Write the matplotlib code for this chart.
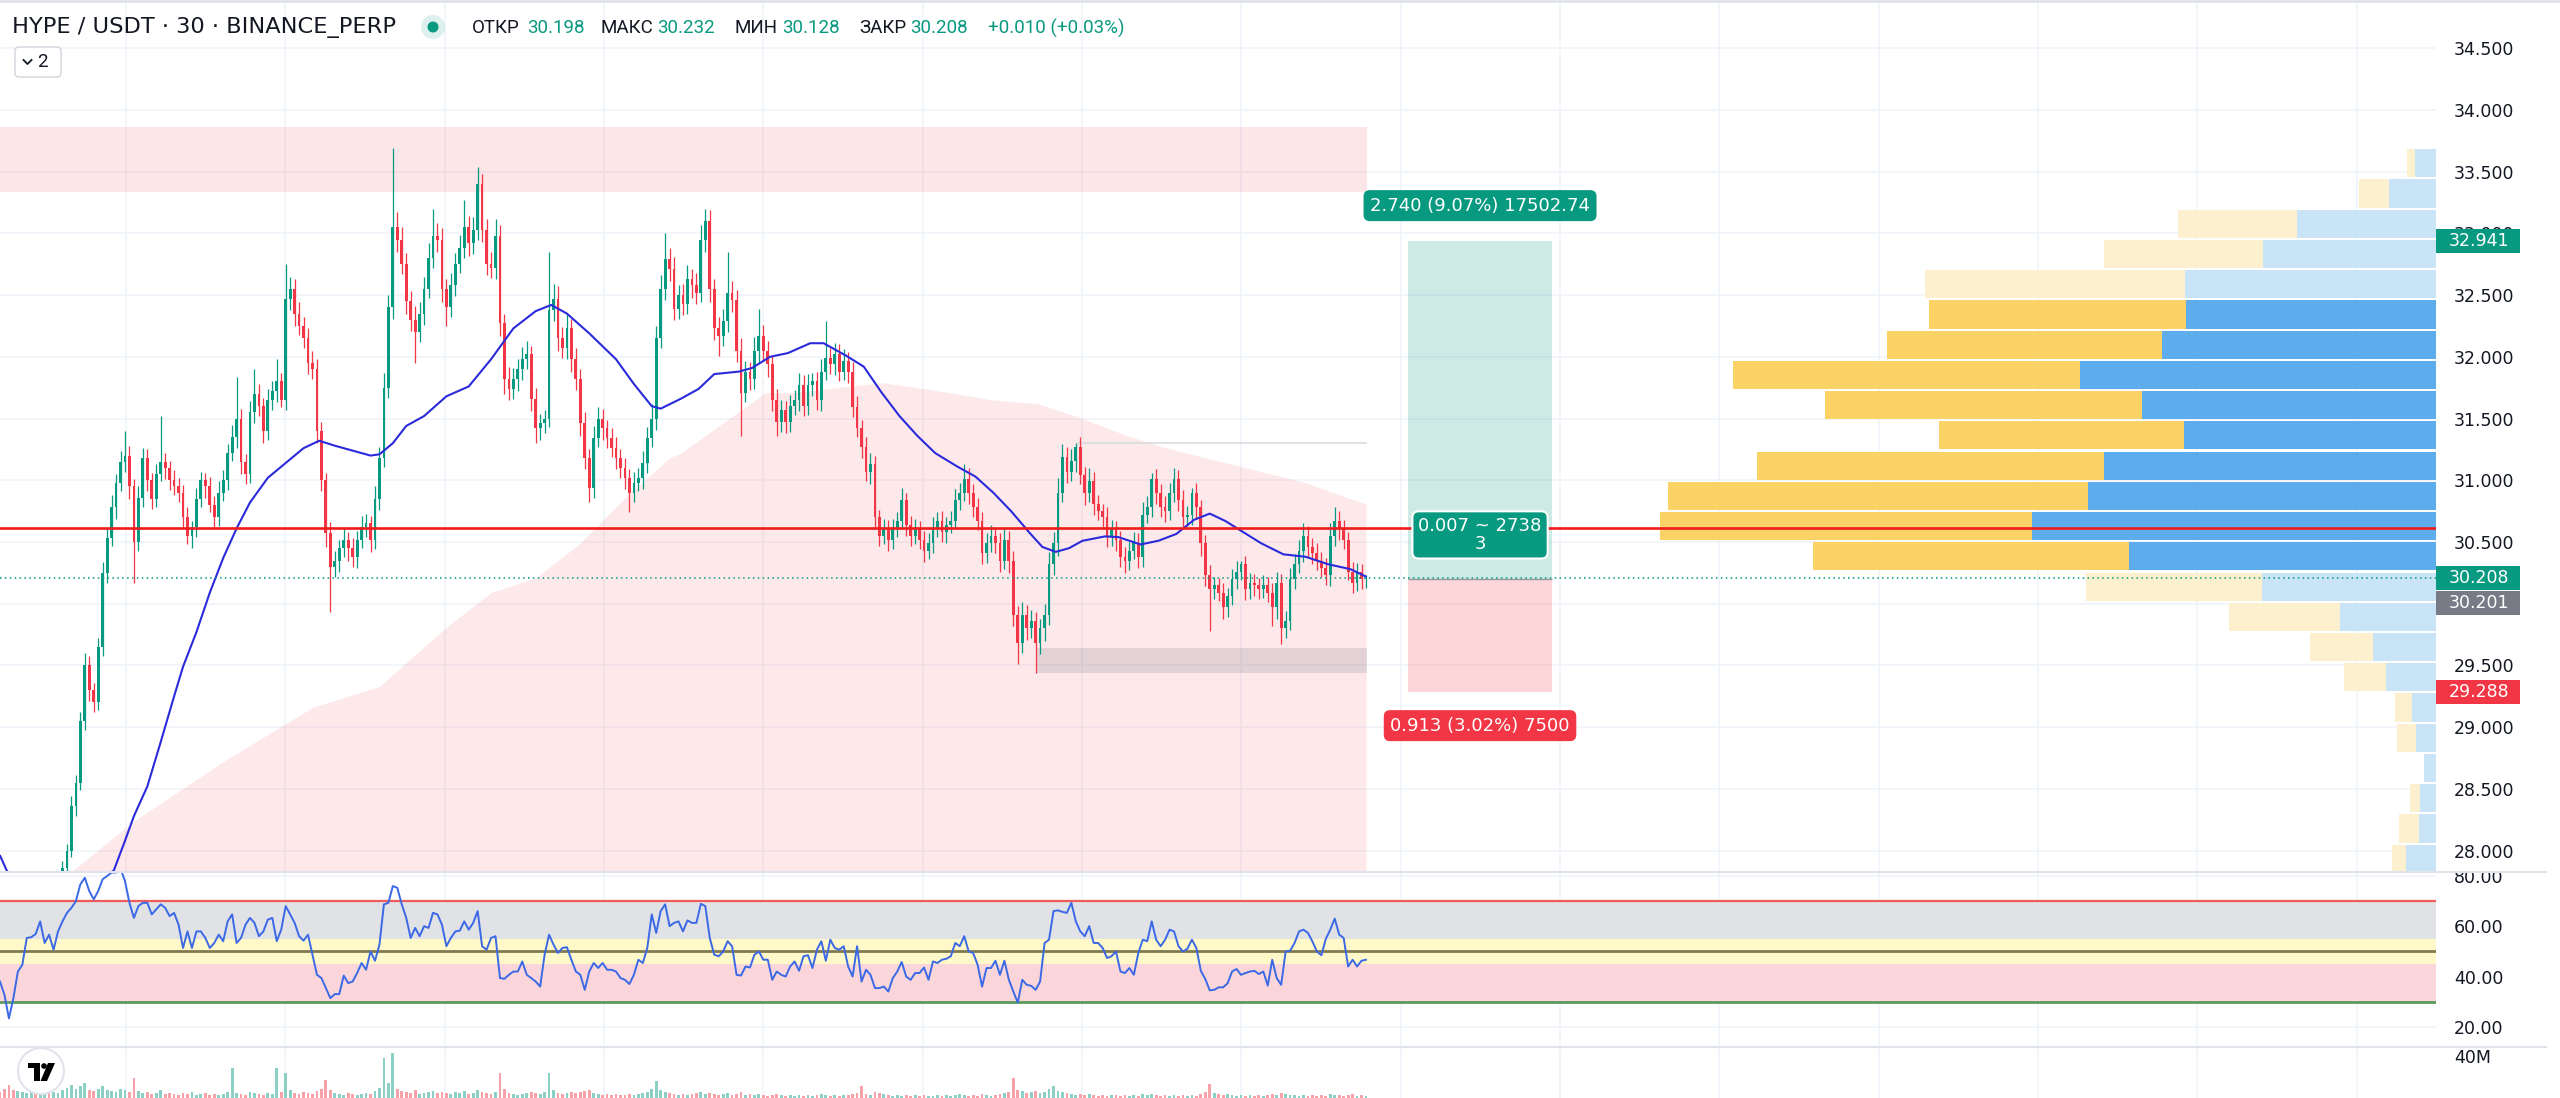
import numpy as np
import matplotlib
matplotlib.use("Agg")
import matplotlib.pyplot as plt
from matplotlib.patches import FancyBboxPatch, Circle, Rectangle, Polygon

# ---------------------------------------------------------------- data
# 30-minute candles (closes); opens follow the previous close
closes = [
    27.60, 27.45, 27.30, 27.22, 27.35, 27.45, 27.52, 27.58, 27.55, 27.62,
    27.68, 27.66, 27.72, 27.78, 27.86, 28.00, 28.36, 28.55, 29.05, 29.50,
    29.30, 29.20, 29.65, 30.25, 30.53, 30.78, 30.98, 31.15, 31.20, 30.95,
    30.50, 30.86, 31.18, 31.00, 30.85, 31.05, 31.15, 31.10, 31.00, 30.95,
    30.90, 30.70, 30.55, 30.62, 30.85, 31.00, 30.95, 30.80, 30.70, 30.90,
    31.00, 31.22, 31.35, 31.50, 31.15, 31.05, 31.55, 31.70, 31.60, 31.40,
    31.65, 31.72, 31.80, 31.65, 32.47, 32.55, 32.35, 32.25, 32.15, 31.95,
    31.90, 31.40, 31.00, 30.57, 30.30, 30.35, 30.45, 30.52, 30.45, 30.38,
    30.52, 30.62, 30.65, 30.52, 30.85, 31.18, 31.75, 32.40, 33.05, 32.95,
    32.75, 32.45, 32.30, 32.20, 32.35, 32.55, 32.80, 32.98, 32.95, 32.55,
    32.40, 32.58, 32.75, 32.88, 33.05, 32.92, 33.03, 33.40, 33.03, 32.75,
    32.72, 32.98, 32.27, 31.82, 31.74, 31.82, 31.90, 31.98, 32.02, 31.66,
    31.42, 31.46, 31.50, 32.38, 32.47, 32.15, 32.07, 32.23, 31.98, 31.82,
    31.46, 31.18, 30.94, 31.34, 31.50, 31.42, 31.34, 31.26, 31.18, 31.10,
    31.02, 30.90, 30.98, 31.02, 31.14, 31.34, 31.50, 32.15, 32.55, 32.79,
    32.71, 32.39, 32.50, 32.43, 32.63, 32.58, 32.52, 32.95, 33.10, 32.55,
    32.23, 32.17, 32.29, 32.52, 32.46, 32.05, 31.71, 31.88, 31.82, 32.05,
    32.17, 32.05, 31.94, 31.65, 31.47, 31.57, 31.47, 31.60, 31.65, 31.77,
    31.60, 31.77, 31.80, 31.65, 31.88, 31.99, 31.94, 32.02, 31.88, 31.97,
    31.88, 31.59, 31.42, 31.27, 31.07, 31.13, 30.70, 30.55, 30.61, 30.52,
    30.61, 30.67, 30.84, 30.64, 30.55, 30.61, 30.52, 30.43, 30.49, 30.61,
    30.67, 30.58, 30.64, 30.67, 30.84, 30.90, 31.01, 30.90, 30.78, 30.67,
    30.41, 30.49, 30.55, 30.49, 30.35, 30.52, 30.35, 29.91, 29.68, 29.91,
    29.80, 29.86, 29.68, 29.80, 29.91, 30.32, 30.49, 30.90, 31.19, 31.07,
    31.16, 31.27, 31.04, 30.90, 30.99, 30.81, 30.75, 30.70, 30.55, 30.61,
    30.52, 30.38, 30.35, 30.43, 30.49, 30.38, 30.72, 30.78, 31.01, 30.90,
    30.78, 30.75, 30.90, 31.01, 30.84, 30.70, 30.72, 30.90, 30.78, 30.49,
    30.23, 30.12, 30.15, 30.09, 29.97, 30.06, 30.20, 30.26, 30.32, 30.12,
    30.17, 30.15, 30.12, 30.15, 30.09, 29.97, 30.17, 29.80, 29.86, 30.20,
    30.32, 30.43, 30.55, 30.46, 30.41, 30.35, 30.29, 30.23, 30.55, 30.67,
    30.61, 30.52, 30.26, 30.17, 30.26, 30.198, 30.208,
]
first_open = 27.70

# wick lengths above / below the body, in cents
upper_wick = [
    5, 6, 4, 7, 5, 6, 4, 5, 6, 5,
    4, 6, 5, 4, 6, 5, 8, 6, 7, 10,
    8, 6, 7, 9, 8, 10, 7, 9, 20, 8,
    6, 9, 8, 7, 6, 8, 37, 7, 6, 8,
    7, 6, 8, 5, 9, 7, 6, 8, 7, 9,
    8, 7, 10, 34, 8, 6, 9, 20, 8, 7,
    9, 8, 18, 7, 28, 10, 8, 9, 7, 8,
    10, 8, 7, 6, 9, 8, 7, 10, 6, 8,
    7, 9, 8, 6, 10, 9, 12, 10, 64, 12,
    10, 9, 8, 11, 9, 10, 12, 22, 10, 9,
    8, 10, 9, 11, 22, 9, 10, 14, 8, 9,
    10, 14, 9, 8, 10, 9, 8, 10, 11, 7,
    9, 8, 7, 47, 12, 10, 9, 12, 8, 9,
    8, 9, 7, 10, 9, 8, 7, 8, 9, 7,
    8, 7, 9, 8, 10, 9, 12, 10, 11, 21,
    9, 10, 8, 9, 11, 8, 10, 12, 10, 9,
    8, 9, 10, 33, 9, 8, 10, 9, 8, 11,
    22, 9, 8, 7, 9, 8, 7, 9, 8, 10,
    8, 9, 7, 8, 10, 30, 8, 9, 8, 9,
    7, 8, 9, 7, 8, 9, 7, 6, 8, 7,
    8, 7, 10, 6, 7, 8, 6, 7, 8, 9,
    7, 8, 6, 8, 9, 8, 12, 9, 7, 8,
    7, 8, 9, 6, 8, 9, 7, 8, 7, 10,
    8, 9, 7, 8, 9, 10, 9, 12, 10, 8,
    9, 3, 8, 7, 11, 8, 7, 6, 8, 7,
    6, 7, 8, 7, 9, 8, 10, 9, 5, 8,
    7, 9, 8, 9, 7, 8, 7, 4, 8, 6,
    7, 8, 7, 6, 8, 7, 8, 9, 3, 7,
    8, 7, 6, 8, 7, 8, 9, 7, 8, 9,
    8, 9, 10, 8, 7, 8, 7, 8, 10, 11,
    8, 7, 6, 8, 7, 6, 2.4,
]
lower_wick = [
    6, 5, 7, 6, 5, 6, 5, 4, 6, 5,
    5, 6, 4, 5, 7, 6, 5, 8, 6, 7,
    9, 8, 6, 7, 8, 6, 9, 7, 8, 10,
    33, 7, 8, 9, 8, 7, 6, 9, 8, 7,
    8, 9, 7, 10, 8, 7, 9, 6, 8, 7,
    7, 8, 6, 9, 10, 8, 7, 9, 8, 10,
    7, 8, 9, 6, 8, 9, 10, 7, 8, 9,
    8, 10, 9, 11, 37, 8, 9, 7, 10, 8,
    9, 7, 8, 10, 8, 9, 7, 8, 9, 10,
    8, 10, 9, 25, 8, 9, 7, 8, 10, 11,
    15, 8, 9, 7, 8, 10, 9, 8, 10, 9,
    8, 9, 10, 12, 9, 8, 10, 9, 8, 10,
    12, 9, 8, 7, 9, 10, 8, 9, 10, 9,
    10, 9, 12, 8, 7, 9, 8, 7, 9, 8,
    9, 16, 8, 7, 9, 8, 7, 9, 8, 9,
    10, 9, 8, 9, 8, 10, 9, 8, 10, 11,
    9, 16, 8, 9, 10, 9, 35, 8, 9, 8,
    9, 8, 10, 9, 11, 8, 9, 8, 7, 9,
    8, 7, 9, 8, 9, 7, 8, 9, 8, 7,
    9, 8, 7, 9, 8, 10, 9, 8, 7, 9,
    8, 7, 6, 9, 8, 7, 8, 9, 7, 8,
    7, 8, 9, 7, 6, 8, 7, 9, 8, 7,
    9, 8, 7, 8, 9, 7, 10, 9, 17, 8,
    9, 8, 24, 9, 10, 8, 9, 10, 8, 9,
    8, 9, 7, 10, 8, 9, 7, 8, 9, 8,
    9, 8, 10, 8, 7, 9, 8, 7, 8, 9,
    8, 9, 7, 8, 9, 8, 7, 8, 9, 10,
    9, 34, 8, 7, 9, 8, 7, 8, 7, 9,
    8, 9, 8, 7, 8, 15, 9, 13, 8, 7,
    8, 7, 9, 8, 9, 8, 7, 8, 9, 8,
    9, 8, 7, 8, 7, 8, 7,
]

# volume per candle, millions
volume_m = [
    6, 9, 12, 8, 7, 6, 5, 7, 5, 6,
    4, 5, 6, 5, 8, 10, 12, 9, 11, 14,
    8, 7, 9, 11, 8, 7, 6, 9, 8, 6,
    19, 7, 5, 6, 4, 5, 8, 4, 5, 4,
    3, 5, 4, 6, 3, 4, 5, 3, 4, 3,
    4, 6, 29, 5, 4, 3, 6, 5, 4, 3,
    5, 4, 29, 6, 24, 8, 5, 4, 6, 5,
    4, 7, 9, 17, 8, 5, 4, 3, 5, 4,
    3, 4, 5, 4, 7, 10, 38, 14, 43, 9,
    7, 6, 5, 8, 4, 5, 6, 7, 5, 6,
    5, 4, 6, 5, 7, 4, 5, 8, 6, 5,
    4, 6, 24, 9, 5, 4, 3, 4, 5, 6,
    5, 4, 6, 24, 8, 5, 4, 5, 6, 5,
    6, 7, 8, 5, 4, 3, 4, 3, 4, 3,
    3, 4, 3, 4, 5, 6, 9, 16, 8, 6,
    5, 4, 3, 4, 3, 4, 5, 6, 4, 5,
    4, 3, 4, 5, 3, 4, 6, 3, 4, 3,
    4, 3, 2, 3, 4, 3, 2, 3, 2, 3,
    2, 3, 2, 3, 4, 3, 2, 3, 2, 3,
    3, 4, 5, 11, 4, 3, 6, 5, 4, 3,
    2, 3, 2, 3, 2, 3, 2, 3, 2, 2,
    3, 2, 3, 2, 3, 4, 3, 2, 3, 2,
    4, 3, 2, 3, 4, 5, 6, 19, 8, 7,
    5, 6, 7, 5, 6, 9, 11, 7, 6, 5,
    4, 3, 4, 3, 4, 3, 2, 3, 2, 3,
    3, 2, 3, 2, 3, 2, 4, 3, 4, 3,
    2, 3, 2, 3, 2, 3, 2, 3, 2, 4,
    6, 13, 5, 4, 3, 4, 3, 2, 3, 2,
    3, 2, 3, 2, 3, 4, 3, 5, 4, 3,
    3, 2, 3, 2, 3, 2, 3, 2, 4, 3,
    3, 2, 3, 4, 2, 3, 2,
]

rsi_values = [
    38, 32.7, 23.3, 31.4, 42, 44.7, 55.4, 55.7, 57, 62,
    53.4, 56.7, 50.7, 58, 62, 65.4, 67.4, 70.1, 76.8, 79.4,
    74.1, 70.8, 74.1, 78.8, 80.1, 81.5, 81.5, 83, 78.1, 69.4,
    63.4, 68.1, 69.4, 69.4, 64.8, 66.8, 68.8, 67.4, 64.1, 65.4,
    60.7, 51.4, 58, 51.4, 58, 58, 55.4, 51.4, 53.4, 56.7,
    54.1, 62, 64.8, 53.4, 55.4, 60.7, 63.4, 61.4, 56.1, 58,
    62.7, 63.4, 54.1, 58.7, 68.1, 64.8, 61.4, 56.1, 54.3, 56.7,
    48.7, 40.7, 39.4, 35.4, 31.4, 33, 33, 40.4, 37.4, 38,
    41.4, 45.4, 42.7, 50, 46.3, 52.7, 68.8, 69.4, 76.1, 75.4,
    68.8, 63.4, 55.4, 59.4, 56.1, 60.1, 59.4, 65.4, 64.8, 60.7,
    52.1, 55.4, 58, 58.3, 62, 58.7, 61.4, 66.1, 52.1, 50.7,
    55.4, 56.1, 39.4, 39.1, 40.7, 42, 42, 46, 40.7, 39.4,
    38, 36, 48.7, 56.7, 52.7, 49.4, 51.4, 51.7, 46.7, 42,
    40.7, 34.7, 42, 45.4, 43.4, 45.4, 42.7, 42.7, 42, 39.4,
    38.7, 37, 40.7, 46.7, 45.4, 51.4, 64.8, 57.4, 66.1, 68.8,
    60.1, 61.4, 62, 58, 62.4, 61.4, 61.4, 69, 68.1, 55.4,
    48.7, 48.1, 50, 54.1, 52.1, 40.7, 40.4, 44, 43.6, 48.7,
    50, 46.7, 46.7, 38.7, 42, 40.7, 40, 44, 46, 42.3,
    48.1, 48.5, 43.4, 50.7, 54.1, 46.3, 54.7, 51.4, 50.7, 52.1,
    44, 40, 52.1, 38, 42.7, 40.7, 35.4, 35.4, 36, 34,
    39.4, 42, 45.8, 40, 38.7, 41.4, 41.4, 43.6, 38.7, 46,
    45.4, 46.7, 47.1, 48.1, 53.4, 52.1, 56.1, 50, 49.4, 44.7,
    36, 43.4, 43.4, 46.3, 40.7, 46.3, 38.7, 34, 29.6, 38.7,
    36.7, 36.3, 34.7, 38, 53.4, 54.7, 66.1, 66.4, 65.8, 65.4,
    69.4, 62, 58, 56.1, 60.1, 53.4, 53.4, 51.4, 47.4, 48.1,
    50, 42, 41.4, 43.4, 40.7, 49.4, 54.7, 54.1, 62, 54.7,
    52.1, 54.7, 58.7, 58, 52.1, 50, 51.1, 54.7, 51.4, 42.3,
    39, 34.5, 34.7, 35.7, 35.7, 37.3, 42, 43, 40.7, 41.4,
    42, 42.3, 41, 42, 36.4, 46.7, 39.4, 36.7, 50, 50.3,
    53.4, 58, 58.7, 57.4, 54, 50, 48.5, 55, 58.7, 63.1,
    56.7, 55.4, 44, 46.7, 44, 46.3, 46.7,
]

# moving average (blue) sampled along the bars
ma_bar = [0, 1.5, 4, 10, 18, 25.5, 28, 30, 33, 36, 39, 41, 44, 47, 50, 53, 56, 60,
          64, 68, 71.5, 75, 79, 83, 85, 88, 91, 95, 100, 105, 110, 115, 120, 123.5,
          127, 132, 138, 142, 146, 148, 152.5, 156.5, 160, 165.5, 168.5, 172.5,
          176.5, 181.5, 184.5, 189.5, 193.5, 197.5, 201.5, 205.5, 209.5, 214.5,
          218.5, 222.5, 226.5, 230.5, 233.5, 236.5, 239.5, 242.5, 247.5, 250.5,
          255.5, 259.5, 263.5, 267.5, 271, 274.5, 278.5, 282.5, 287.5, 292.5,
          297.5, 302.5, 306]
ma_price = [27.96, 27.84, 27.72, 27.62, 27.63, 27.84, 28.08, 28.28, 28.52, 28.88,
            29.25, 29.49, 29.77, 30.09, 30.37, 30.61, 30.82, 31.02, 31.14, 31.26,
            31.32, 31.28, 31.24, 31.20, 31.21, 31.30, 31.44, 31.52, 31.68, 31.76,
            31.98, 32.23, 32.37, 32.42, 32.35, 32.19, 31.98, 31.78, 31.60, 31.58,
            31.66, 31.74, 31.86, 31.88, 31.91, 32.00, 32.03, 32.11, 32.11, 32.01,
            31.92, 31.71, 31.52, 31.36, 31.22, 31.11, 31.03, 30.90, 30.75, 30.58,
            30.46, 30.42, 30.45, 30.51, 30.545, 30.54, 30.48, 30.51, 30.565, 30.68,
            30.73, 30.67, 30.58, 30.49, 30.40, 30.38, 30.32, 30.28, 30.22]

# long moving average drawn as a pink area
area_bar = [12, 16, 30, 50, 70, 85, 100, 110, 120, 130, 140, 150, 152.5, 171.5,
            177.5, 197.5, 207.5, 222.5, 232.5, 242.5, 252.5, 262.5, 272.5, 282.5,
            292.5, 302.5, 306]
area_price = [27.70, 27.83, 28.24, 28.72, 29.16, 29.33, 29.81, 30.09, 30.21, 30.49,
              30.86, 31.18, 31.22, 31.71, 31.71, 31.79, 31.74, 31.65, 31.62, 31.50,
              31.36, 31.25, 31.16, 31.07, 30.98, 30.85, 30.81]

# zones / drawings (prices, bar indices)
supply_zone = (33.335, 33.858)
zone_bars = (-5, 306.3)
demand_box = (29.44, 29.64)
demand_bars = (232.3, 306.3)
level_line = 31.30
level_bars = (241.3, 306.3)
red_level = 30.615

entry_price = 30.201
take_profit = 32.941
stop_loss = 29.288
position_bars = (315.4, 347.7)
profit_text = "2.740 (9.07%) 17502.74"
middle_text = "0.007 ~ 2738\n3"
loss_text = "0.913 (3.02%) 7500"

# visible-range volume profile, rows from top to bottom
vp_top = 33.690
vp_row = 0.2449
vp_up = [21, 47, 139, 173, 251, 250, 274, 356, 294, 252, 332, 348, 404, 307, 174,
         96, 63, 50, 24, 20, 12, 16, 17, 30]
vp_down = [8, 30, 119, 159, 260, 257, 275, 347, 317, 245, 347, 420, 372, 316, 176,
           111, 63, 42, 17, 19, 0, 10, 20, 14]
value_area_rows = (5, 13)

# RSI levels
rsi_upper, rsi_mid, rsi_lower = 70, 50, 30
rsi_bands = [(55, 70, "#E1E2E6"), (45, 55, "#FFF8C8"), (30, 45, "#FAD6DA")]

price_ticks = [28.0, 28.5, 29.0, 29.5, 30.0, 30.5, 31.0, 31.5, 32.0, 32.5, 33.0,
               33.5, 34.0, 34.5]
rsi_ticks = [20, 40, 60, 80]
header_title = "HYPE / USDT \u00b7 30 \u00b7 BINANCE_PERP"

n = len(closes)
assert len(upper_wick) == n and len(lower_wick) == n
assert len(volume_m) == n and len(rsi_values) == n
assert len(ma_bar) == len(ma_price) and len(area_bar) == len(area_price)

# ---------------------------------------------------------------- style
W, H, DPI = 2560, 1098, 100
UP, DOWN, GRAY = "#089981", "#F23645", "#787B86"
TXT = "#131722"
GRID = "#F0F3FA"
SEP = "#E0E3EB"
PANE_R = 2436          # right edge of the panes, px
MAIN_B, RSI_B = 872, 1047
PRICE_LIM = (27.827, 34.890)
RSI_LIM = (11.9, 81.7)
VOL_LIM = (0, 48.6)
BAR_PX = 4.464
XLIM = (0, PANE_R / BAR_PX)
VP_FRAC = 0.3186
LABEL_FS = 12.5
TAG_FS = 13

plt.rcParams["font.family"] = ["DejaVu Sans"]
fig = plt.figure(figsize=(W / DPI, H / DPI), dpi=DPI, facecolor="white")


def frect(x0, y0, x1, y1):
    return [x0 / W, 1 - y1 / H, (x1 - x0) / W, (y1 - y0) / H]


ax = fig.add_axes(frect(0, 0, PANE_R, MAIN_B))
ax_rsi = fig.add_axes(frect(0, MAIN_B, PANE_R, RSI_B))
ax_vol = fig.add_axes(frect(0, RSI_B, PANE_R, H))

day_ticks = np.arange(28.23, XLIM[1], 35.69)
for a in (ax, ax_rsi, ax_vol):
    a.set_xlim(*XLIM)
    for s in a.spines.values():
        s.set_visible(False)
    a.set_xticks(day_ticks)
    a.tick_params(axis="x", length=0, labelbottom=False)
    a.grid(True, axis="x", color=GRID, lw=1.2, zorder=0)
    a.set_axisbelow(True)
    a.yaxis.tick_right()
    a.tick_params(axis="y", length=0, pad=13, labelsize=LABEL_FS, labelcolor=TXT)

# ---------------- main pane
ax.set_ylim(*PRICE_LIM)
ax.set_yticks(price_ticks)
ax.set_yticklabels([f"{t:.3f}" for t in price_ticks])
ax.grid(True, axis="y", color=GRID, lw=1.2, zorder=0)

idx = np.arange(n)
c = np.array(closes, dtype=float)
o = np.r_[first_open, c[:-1]]
hi = np.maximum(o, c) + np.array(upper_wick) / 100.0
lo = np.minimum(o, c) - np.array(lower_wick) / 100.0
up = c >= o
cols = np.where(up, UP, DOWN)

ax.fill_between(area_bar, area_price, PRICE_LIM[0] - 1, color=DOWN, alpha=0.11, lw=0, zorder=1)
ax.fill_between(zone_bars, supply_zone[0], supply_zone[1], color=DOWN, alpha=0.12, lw=0, zorder=1)
ax.fill_between(demand_bars, demand_box[0], demand_box[1], color=GRAY, alpha=0.2, lw=0, zorder=2)
ax.hlines(level_line, *level_bars, color="#D9DBE1", lw=1.2, zorder=2)

ax.vlines(idx, lo, hi, colors=cols, lw=0.9, zorder=3)
ax.bar(idx, np.maximum(np.abs(c - o), 0.008), bottom=np.minimum(o, c), width=0.62,
       color=cols, lw=0, zorder=4)
ax.plot(ma_bar, ma_price, color="#2A2ADB", lw=1.5, zorder=5, solid_capstyle="round")

ax.fill_between(position_bars, entry_price, take_profit, color=UP, alpha=0.2, lw=0, zorder=2)
ax.fill_between(position_bars, stop_loss, entry_price, color=DOWN, alpha=0.2, lw=0, zorder=2)
ax.hlines(entry_price, *position_bars, color="#9598A1", lw=1, zorder=2)

# ---------------- volume profile (overlay sharing the price scale)
ax_vp = ax.twiny()
for s in ax_vp.spines.values():
    s.set_visible(False)
ax_vp.set_xticks([])
ax_vp.tick_params(top=False, labeltop=False, bottom=False, labelbottom=False)
vp_up_a = np.array(vp_up, float)
vp_dn_a = np.array(vp_down, float)
tot_max = (vp_up_a + vp_dn_a).max()
ax_vp.set_xlim(tot_max / VP_FRAC, 0)
rows = np.arange(len(vp_up))
centers = vp_top - (rows + 0.5) * vp_row
in_va = (rows >= value_area_rows[0]) & (rows <= value_area_rows[1])
col_up = np.where(in_va, "#5DADEC", "#C8E4F6")
col_dn = np.where(in_va, "#FBD266", "#FDF0CE")
ax_vp.barh(centers, vp_up_a, height=vp_row * 0.93, left=0, color=col_up, lw=0, zorder=1)
ax_vp.barh(centers, vp_dn_a, height=vp_row * 0.93, left=vp_up_a, color=col_dn, lw=0, zorder=1)
ax_vp.set_ylim(*PRICE_LIM)

ax_vp.axhline(red_level, color="#F01C1C", lw=1.9, zorder=4)
ax_vp.axhline(c[-1], color=UP, lw=1.1, ls=(0, (1, 2.2)), zorder=4)

pos_mid = sum(position_bars) / 2
ax_vp.annotate(profit_text, xy=(pos_mid, take_profit), xycoords=ax.transData,
               xytext=(0, 35), textcoords="offset pixels", ha="center", va="center",
               color="white", fontsize=TAG_FS, zorder=6,
               bbox=dict(boxstyle="round,pad=0.36,rounding_size=0.35", fc=UP, ec="none"))
ax_vp.annotate(middle_text, xy=(pos_mid, entry_price), xycoords=ax.transData,
               xytext=(0, 44), textcoords="offset pixels", ha="center", va="center",
               color="white", fontsize=TAG_FS, zorder=6, linespacing=0.95,
               bbox=dict(boxstyle="round,pad=0.33,rounding_size=0.35", fc=UP, ec="white", lw=1.5))
ax_vp.annotate(loss_text, xy=(pos_mid, stop_loss), xycoords=ax.transData,
               xytext=(0, -34), textcoords="offset pixels", ha="center", va="center",
               color="white", fontsize=TAG_FS, zorder=6,
               bbox=dict(boxstyle="round,pad=0.36,rounding_size=0.35", fc=DOWN, ec="none"))

# ---------------- RSI pane
ax_rsi.set_ylim(*RSI_LIM)
ax_rsi.set_yticks(rsi_ticks)
ax_rsi.set_yticklabels([f"{t:.2f}" for t in rsi_ticks])
ax_rsi.grid(True, axis="y", color=GRID, lw=1.2, zorder=0)
for lo_b, hi_b, colr in rsi_bands:
    ax_rsi.axhspan(lo_b, hi_b, color=colr, lw=0, zorder=1)
ax_rsi.axhline(rsi_upper, color="#EF5A5A", lw=1.6, zorder=2)
ax_rsi.axhline(rsi_mid, color="#807A52", lw=2.0, zorder=2)
ax_rsi.axhline(rsi_lower, color="#5C9A5C", lw=2.0, zorder=2)
ax_rsi.plot(idx, rsi_values, color="#3B69E6", lw=1.4, zorder=3)

# ---------------- volume pane
ax_vol.set_ylim(*VOL_LIM)
ax_vol.set_yticks([40])
ax_vol.set_yticklabels(["40M"])
vcols = np.where(up, "#8CCFC4", "#F7A1A8")
ax_vol.bar(idx, volume_m, width=0.62, color=vcols, lw=0, zorder=2)

# ---------------- price-axis labels
ax_lab = fig.add_axes(frect(PANE_R, 0, W, MAIN_B))
ax_lab.set_xlim(0, W - PANE_R)
ax_lab.set_ylim(*PRICE_LIM)
ax_lab.axis("off")
px_per_price = MAIN_B / (PRICE_LIM[1] - PRICE_LIM[0])
box_h = 24 / px_per_price
tags = [(take_profit, take_profit, UP), (c[-1], c[-1], UP),
        (entry_price, entry_price - 24 / px_per_price, GRAY),
        (stop_loss, stop_loss, DOWN)]
ax_lab.barh([t[1] for t in tags], 84, height=box_h, left=0,
            color=[t[2] for t in tags], lw=0)
for val, ypos, colr in tags:
    ax_lab.text(13, ypos, f"{val:.3f}", color="white", fontsize=LABEL_FS,
                va="center", ha="left")

# ---------------- overlay decorations in pixel coordinates
ov = fig.add_axes([0, 0, 1, 1], zorder=10)
ov.set_xlim(0, W)
ov.set_ylim(H, 0)
ov.axis("off")
ov.patch.set_alpha(0)

ov.plot([0, W], [1, 1], color=SEP, lw=2)
ov.plot([0, 2546], [MAIN_B, MAIN_B], color=SEP, lw=1.5)
ov.plot([0, 2546], [RSI_B, RSI_B], color=SEP, lw=1.5)
ov.add_patch(Rectangle((PANE_R + 1, 862), W - PANE_R, MAIN_B - 862, fc="white", ec="none"))

ov.text(12, 28, header_title, fontsize=16.2, color=TXT, va="center", ha="left",
        family=["DejaVu Sans"])
ov.add_patch(Circle((433, 27), 12, fc=UP, alpha=0.14, ec="none"))
ov.add_patch(Circle((433, 27), 5.5, fc=UP, ec="none"))
o_l, h_l, l_l, c_l = o[-1], hi[-1], lo[-1], c[-1]
chg = c[-1] - c[-2]
ohlc = [("ОТКР", 472, TXT), (f"{o_l:.3f}", 527, UP), ("МАКС", 600, TXT),
        (f"{h_l:.3f}", 657, UP), ("МИН", 735, TXT), (f"{l_l:.3f}", 782, UP),
        ("ЗАКР", 859, TXT), (f"{c_l:.3f}", 910, UP),
        (f"{chg:+.3f} ({chg / c[-2] * 100:+.2f}%)", 988, UP)]
for s, x, colr in ohlc:
    ov.text(x, 28, s, fontsize=13.5, color=colr, va="center", ha="left",
            family=["Roboto", "DejaVu Sans"])

ov.add_patch(FancyBboxPatch((15, 47), 46, 30, boxstyle="round,pad=0,rounding_size=4",
                            fc="white", ec="#D1D4DC", lw=1))
ov.plot([23.5, 27.5, 31.5], [60, 64, 60], color=TXT, lw=1.3)
ov.text(37, 62, "2", fontsize=13.5, color=TXT, va="center", ha="left",
        family=["Roboto", "DejaVu Sans"])

# TradingView logo
ov.add_patch(Circle((41, 1071), 23, fc="white", ec="#E0E3EB", lw=1.5))
ov.add_patch(Rectangle((28, 1063), 12, 5, fc="black", ec="none"))
ov.add_patch(Rectangle((34, 1063), 5.5, 18, fc="black", ec="none"))
ov.add_patch(Circle((44, 1066), 2.8, fc="black", ec="none"))
ov.add_patch(Polygon([(48, 1063), (55, 1063), (47, 1081), (40.5, 1081)], closed=True,
                     fc="black", ec="none"))

fig.savefig("out.png", dpi=DPI, facecolor="white")
